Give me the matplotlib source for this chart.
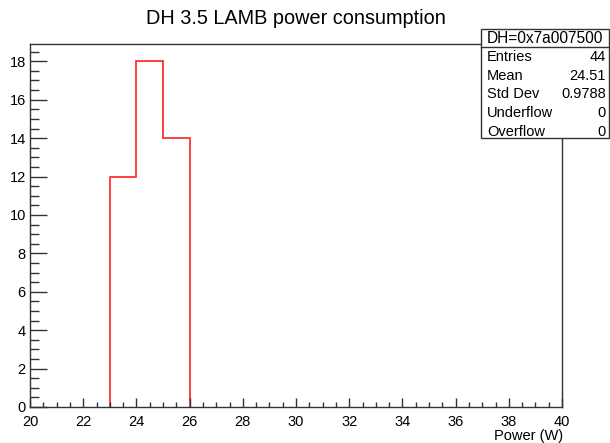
import matplotlib
matplotlib.use("Agg")
import matplotlib.pyplot as plt
from matplotlib.ticker import MultipleLocator
import numpy as np

plt.rcParams['font.family'] = ['Liberation Sans', 'DejaVu Sans']

# Histogram content: bin edges and counts (W)
bin_edges = [23, 24, 25, 26]
counts = [12, 18, 14]

title = "DH 3.5 LAMB power consumption"
x_label = "Power (W)"
x_range = (20, 40)
y_max = 18.9

stats_title = "DH=0x7a007500"
stats_names = ["Entries", "Mean", "Std Dev", "Underflow", "Overflow"]
stats_values = ["44", "24.51", "0.9788", "0", "0"]

W, H = 610, 443
fig = plt.figure(figsize=(W / 100, H / 100), dpi=100)
ax = fig.add_axes([30 / W, 1 - 407 / H, 532 / W, 363 / H])

ax.stairs(counts, bin_edges, baseline=0, fill=False, color='#ff3333', lw=1.3)

ax.set_xlim(*x_range)
ax.set_ylim(0, y_max)

ax.xaxis.set_major_locator(MultipleLocator(2))
ax.xaxis.set_minor_locator(MultipleLocator(0.5))
ax.yaxis.set_major_locator(MultipleLocator(2))
ax.yaxis.set_minor_locator(MultipleLocator(0.5))

ax.tick_params(axis='both', which='both', direction='in', top=False, right=False,
               colors='#333333', labelcolor='black', labelsize=10.5)
ax.tick_params(axis='x', which='major', length=6.7, width=1, pad=5.5)
ax.tick_params(axis='x', which='minor', length=3.6, width=1)
ax.tick_params(axis='y', which='major', length=12, width=1, pad=3)
ax.tick_params(axis='y', which='minor', length=6.5, width=1)

for s in ax.spines.values():
    s.set_color('#333333')
    s.set_linewidth(1.0)

fig.text(296 / W, 1 - 24 / H, title, ha='center', va='baseline', fontsize=14.3)
fig.text(563 / W, 1 - 440 / H, x_label, ha='right', va='baseline', fontsize=10.5)

# Statistics box
bx0, bx1, by0, by1 = 481, 609, 29, 138
sep = 47
box = plt.Rectangle((bx0 / W, 1 - by1 / H), (bx1 - bx0) / W, (by1 - by0) / H,
                    transform=fig.transFigure, fill=True, facecolor='white',
                    edgecolor='#333333', lw=1.0, zorder=5)
fig.add_artist(box)
fig.add_artist(plt.Line2D([bx0 / W, bx1 / W], [1 - sep / H, 1 - sep / H],
                          transform=fig.transFigure, color='#333333', lw=1.0, zorder=6))
fig.text((bx0 + bx1) / 2 / W, 1 - 38.5 / H, stats_title, ha='center', va='center',
         fontsize=11.2, zorder=7)
row_y = [57, 75.5, 94, 113, 131.5]
for name, val, yy in zip(stats_names, stats_values, row_y):
    fig.text(487 / W, 1 - yy / H, name, ha='left', va='center', fontsize=10.5, zorder=7)
    fig.text(606 / W, 1 - yy / H, val, ha='right', va='center', fontsize=10.5, zorder=7)

fig.savefig("out.png", dpi=100)
